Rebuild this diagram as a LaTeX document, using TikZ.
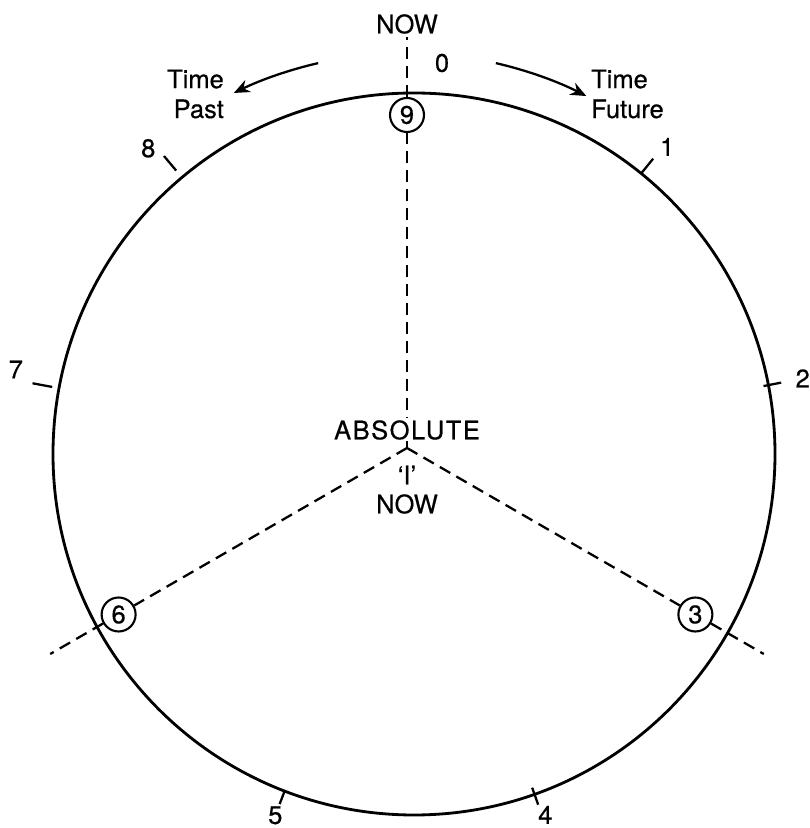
\documentclass[tikz,border=0pt]{standalone}
\usepackage{fontspec}
\setmainfont{TeX Gyre Heros}[FakeBold=0.5]
\newfontfamily\spacedfont{TeX Gyre Heros}[FakeBold=0.5,LetterSpace=6]
\usetikzlibrary{arrows.meta,calc}

\begin{document}
\begin{tikzpicture}[x=0.02cm,y=0.02cm,font=\fontsize{14.5}{17}\selectfont,
    rim/.style={line width=1.6pt},
    spoke/.style={line width=1.3pt,dash pattern=on 6.8pt off 4pt},
    tickmark/.style={line width=1.3pt},
    ring/.style={circle,draw,line width=1.2pt,fill=white,minimum size=0.68cm,inner sep=0pt},
    timearrow/.style={line width=1.3pt,-{Stealth[length=9pt,width=7.5pt]}}]
  \useasboundingbox (0,0) rectangle (809,828);
  % --- centres: the rim circle and the hub where the spokes meet ---
  \coordinate (ctr) at (414,374);
  \coordinate (hub) at (407,380);
  \draw[rim] (ctr) circle (361);
  % --- circled marks on the three spokes ---
  \node[ring] (c9) at ($(hub)+(90:333)$) {9};
  \node[ring] (c3) at ($(hub)+(-30:333)$) {3};
  \node[ring] (c6) at ($(hub)+(210:333)$) {6};
  \node[inner sep=1.5pt] (nowtop) at (407,804) {NOW};
  \coordinate (e3) at ($(hub)+(-30:412)$);
  \coordinate (e6) at ($(hub)+(210:412)$);
  % --- spokes ---
  \draw[spoke] (hub) -- (c9) -- (nowtop);
  \draw[spoke] (hub) -- (c3) -- (e3);
  \draw[spoke] (hub) -- (c6) -- (e6);
  % --- centre labels ---
  \node[fill=white,inner sep=1pt,font={\spacedfont\fontsize{14.5}{17}\selectfont}]
        (absl) at (407,398) {ABSOLUTE};
  \node (eye) at (407,353) {`I'};
  \node (nowc) at (407,324) {NOW};
  % --- ticks and numbers (0,3,6,9 sit on the spokes) ---
  % number / tick angle / inner / outer / label angle / label radius
  \foreach \k/\a/\ri/\ro/\la/\lr in {1/51/361/380/50.5/398,2/11/356/374/11/396,
      4/-70.5/354/372/-70/384,5/-111/360/375/-111/387,
      7/169.5/368/388/168/407,8/130/370/389/131/405}{
    \draw[tickmark] ($(ctr)+(\a:\ri)$) -- ($(ctr)+(\a:\ro)$);
    \node (lbl\k) at ($(ctr)+(\la:\lr)$) {\k};}
  \node (lbl0) at (442,765) {0};
  % --- time arrows ---
  \node[align=right,anchor=east] (past) at (230,734) {Time\\Past};
  \node[align=left,anchor=west] (future) at (585,734) {Time\\Future};
  \coordinate (pastS) at ($(hub)+(103:395)$);
  \coordinate (futS) at ($(hub)+(77:395)$);
  \draw[timearrow] (pastS) arc[start angle=103,end angle=116,radius=395];
  \draw[timearrow] (futS) arc[start angle=77,end angle=63,radius=395];
\end{tikzpicture}
\end{document}
